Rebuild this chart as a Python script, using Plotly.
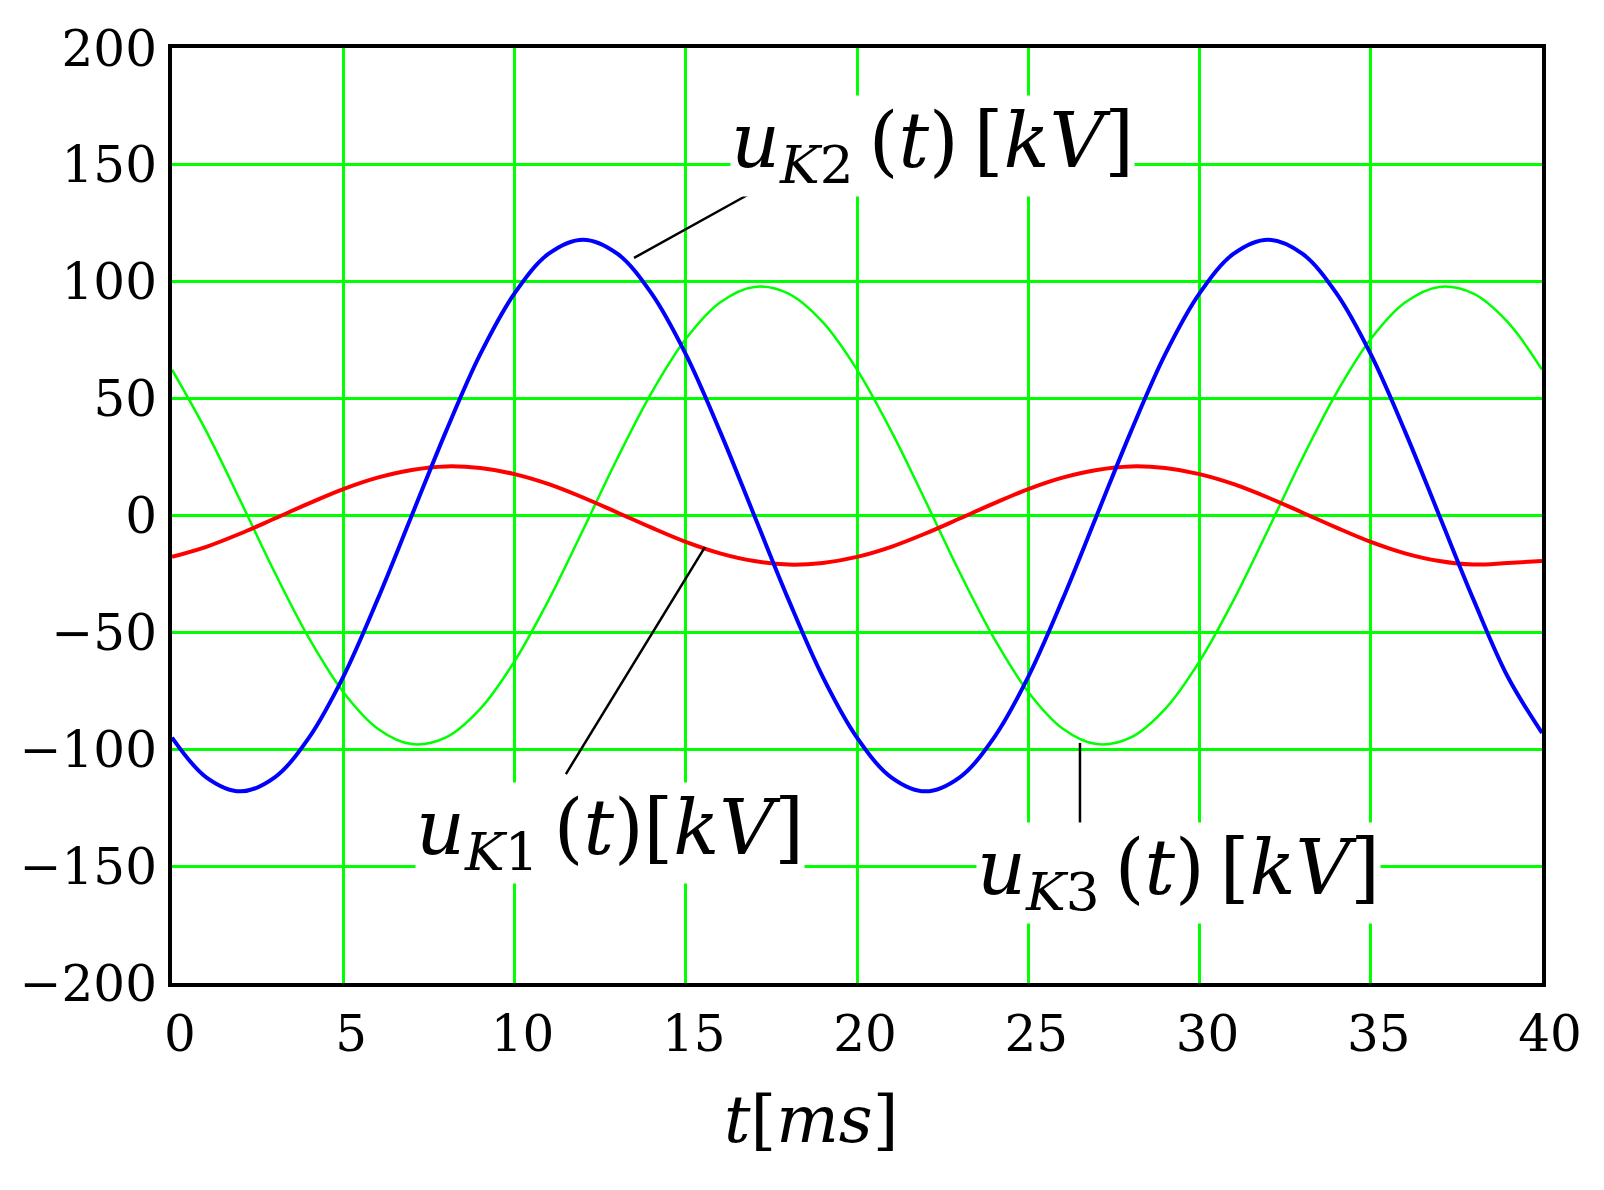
import plotly.graph_objects as go

t_ms = list(range(0, 41))

u_k1 = [-17.7, -13.4, -7.7, -1.3, 5.2, 11.3, 16.2, 19.5, 21.0, 20.3,
        17.7, 13.4, 7.7, 1.3, -5.2, -11.3, -16.2, -19.5, -21.0, -20.3,
        -17.7, -13.4, -7.7, -1.3, 5.2, 11.3, 16.2, 19.5, 21.0, 20.3,
        17.7, 13.4, 7.7, 1.3, -5.2, -11.3, -16.2, -19.5, -21.0, -20.3, -19.5]

u_k2 = [-95, -112, -118, -112, -95, -69, -36, 0, 36, 69,
        95, 112, 118, 112, 95, 69, 36, 0, -36, -69,
        -95, -112, -118, -112, -95, -69, -36, 0, 36, 69,
        95, 112, 118, 112, 95, 69, 36, 0, -36, -69, -93]

u_k3 = [62.4, 36.1, 6.2, -24.4, -52.5, -75.5, -91.1, -97.8, -94.9, -82.7,
        -62.4, -36.1, -6.2, 24.4, 52.5, 75.5, 91.1, 97.8, 94.9, 82.7,
        62.4, 36.1, 6.2, -24.4, -52.5, -75.5, -91.1, -97.8, -94.9, -82.7,
        -62.4, -36.1, -6.2, 24.4, 52.5, 75.5, 91.1, 97.8, 94.9, 82.7, 62.4]

x_ticks = [0, 5, 10, 15, 20, 25, 30, 35, 40]
y_ticks = [-200, -150, -100, -50, 0, 50, 100, 150, 200]

TS = "\u2009"
labels = ["<i>u</i><sub><i>K</i>1</sub>" + TS + "(<i>t</i>)[<i>kV</i>]",
          "<i>u</i><sub><i>K</i>2</sub>" + TS + "(<i>t</i>)" + TS + "[<i>kV</i>]",
          "<i>u</i><sub><i>K</i>3</sub>" + TS + "(<i>t</i>)" + TS + "[<i>kV</i>]"]
label_pos = [(12.8, -136), (22.2, 158), (29.4, -153)]
leaders = [((15.56, -13.5), (11.5, -110.6)),
           ((13.49, 110.2), (16.96, 138.4)),
           ((26.51, -97.3), (26.51, -131.5))]

GREEN = "rgb(0,255,0)"
fig = go.Figure()
fig.add_trace(go.Scatter(x=t_ms, y=u_k3, mode="lines", line=dict(color=GREEN, width=2.5, shape="spline"), showlegend=False))
fig.add_trace(go.Scatter(x=t_ms, y=u_k1, mode="lines", line=dict(color="rgb(255,0,0)", width=4, shape="spline"), showlegend=False))
fig.add_trace(go.Scatter(x=t_ms, y=u_k2, mode="lines", line=dict(color="rgb(0,0,255)", width=4, shape="spline"), showlegend=False))

for (p0, p1) in leaders:
    fig.add_shape(type="line", x0=p0[0], y0=p0[1], x1=p1[0], y1=p1[1],
                  xref="x", yref="y", line=dict(color="black", width=2.5))

for txt, (lx, ly) in zip(labels, label_pos):
    fig.add_annotation(x=lx, y=ly, xref="x", yref="y", text=txt, showarrow=False,
                       xanchor="center", yanchor="middle",
                       font=dict(family="DejaVu Serif", size=76, color="black"),
                       bgcolor="white", borderpad=0)

fig.add_annotation(x=0.467, y=-0.1465, xref="paper", yref="paper",
                   xanchor="center", yanchor="middle",
                   text="<i>t</i>[<i>ms</i>]", showarrow=False,
                   font=dict(family="DejaVu Serif", size=66, color="black"))

axis_common = dict(showgrid=True, gridcolor=GREEN, gridwidth=3,
                   showline=True, linecolor="black", linewidth=4, mirror=True,
                   zeroline=False, ticks="", automargin=False,
                   tickfont=dict(family="DejaVu Serif", size=50, color="black"))
fig.update_xaxes(range=[0, 40], tickvals=x_ticks, ticklabelshift=8, ticklabelstandoff=4, **axis_common)
fig.update_yaxes(range=[-200, 200], tickvals=y_ticks, ticklabelstandoff=1, **axis_common)

fig.update_layout(width=1596, height=1182, plot_bgcolor="white", paper_bgcolor="white",
                  margin=dict(l=164, r=62, t=40, b=207))

fig.write_html("out.html")
